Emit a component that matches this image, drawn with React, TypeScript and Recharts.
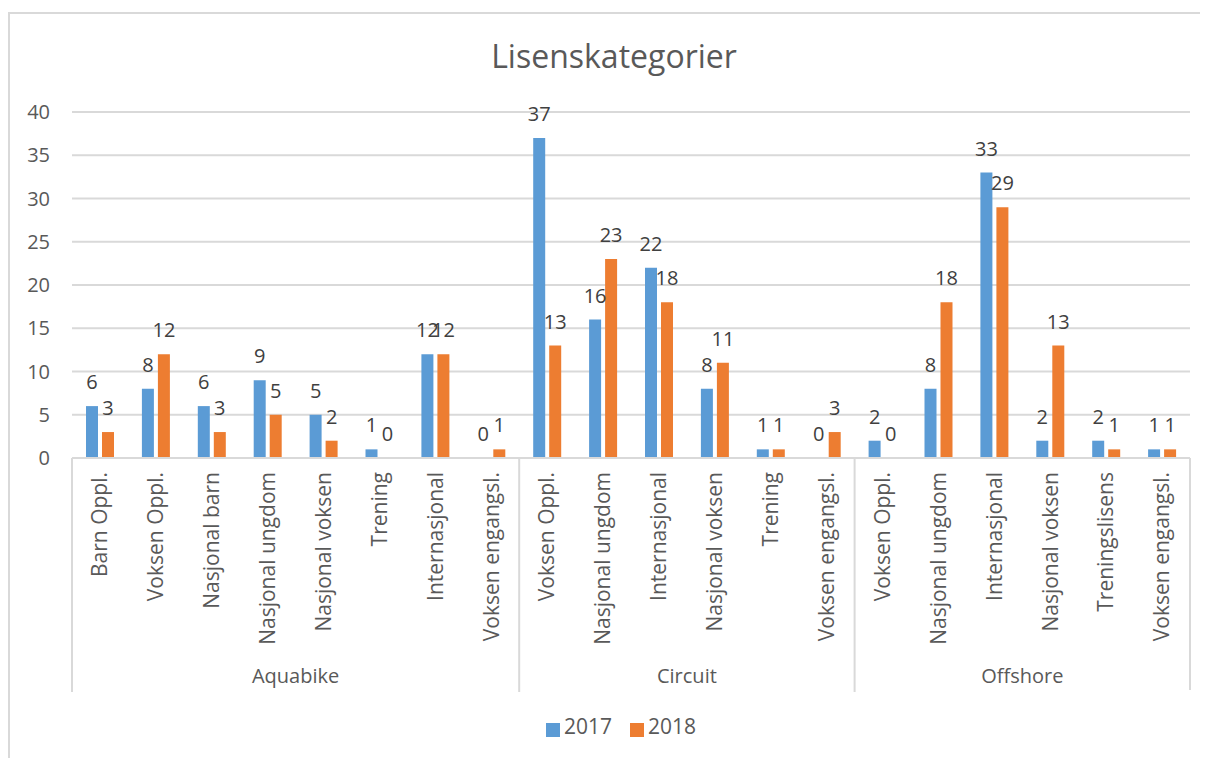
import { Bar, BarChart, CartesianGrid, LabelList, Legend, XAxis, YAxis } from "recharts";

const groups = ["Aquabike", "Circuit", "Offshore"];

const aquabikeCats = ["Barn Oppl.", "Voksen Oppl.", "Nasjonal barn", "Nasjonal ungdom", "Nasjonal voksen", "Trening", "Internasjonal", "Voksen engangsl."];
const aquabike2017 = [6, 8, 6, 9, 5, 1, 12, 0];
const aquabike2018 = [3, 12, 3, 5, 2, 0, 12, 1];

const circuitCats = ["Voksen Oppl.", "Nasjonal ungdom", "Internasjonal", "Nasjonal voksen", "Trening", "Voksen engangsl."];
const circuit2017 = [37, 16, 22, 8, 1, 0];
const circuit2018 = [13, 23, 18, 11, 1, 3];

const offshoreCats = ["Voksen Oppl.", "Nasjonal ungdom", "Internasjonal", "Nasjonal voksen", "Treningslisens", "Voksen engangsl."];
const offshore2017 = [2, 8, 33, 2, 2, 1];
const offshore2018 = [0, 18, 29, 13, 1, 1];

const yTicks = [0, 5, 10, 15, 20, 25, 30, 35, 40];

const groupCats = [aquabikeCats, circuitCats, offshoreCats];
const group2017 = [aquabike2017, circuit2017, offshore2017];
const group2018 = [aquabike2018, circuit2018, offshore2018];

const data = groups.flatMap((g, gi) =>
  groupCats[gi].map((name, i) => ({
    key: `${g}|${name}`,
    name,
    group: g,
    groupStart: i === 0,
    groupSize: groupCats[gi].length,
    v2017: group2017[gi][i],
    v2018: group2018[gi][i],
  }))
);

const W = 1200;
const H = 750;
const LEFT = 64;
const RIGHT = 18;
const BAND = (W - LEFT - RIGHT) / data.length;
const GRID = "#D9D9D9";
const TEXT = "#595959";
const FS = 20;

// zero bars still need a label, so give them a hairline height
const tinyForZero = (v: any) => (Number(v) === 0 ? 0.01 : 0);

function CategoryTick(props: any) {
  const { x, y, index } = props;
  const d = data[index];
  const top = y - 8;
  return (
    <g>
      <text
        x={x}
        y={top + 14}
        transform={`rotate(-90, ${x}, ${top + 14})`}
        textAnchor="end"
        dy="0.35em"
        fill={TEXT}
        fontSize={21}
      >
        {d.name}
      </text>
      {d.groupStart && (
        <>
          <line x1={x - BAND / 2} x2={x - BAND / 2} y1={top} y2={top + 234} stroke={GRID} strokeWidth={2} />
          <text x={x - BAND / 2 + (d.groupSize * BAND) / 2} y={top + 225} textAnchor="middle" fill={TEXT} fontSize={FS}>
            {d.group}
          </text>
        </>
      )}
      {index === data.length - 1 && (
        <line x1={x + BAND / 2} x2={x + BAND / 2} y1={top} y2={top + 232} stroke={GRID} strokeWidth={2} />
      )}
    </g>
  );
}

export default function App() {
  return (
    <div style={{ position: "relative", width: W, height: H, overflow: "hidden", fontFamily: "'Open Sans', sans-serif" }}>
      <div
        style={{
          position: "absolute",
          left: 0,
          top: 4,
          width: 1400,
          height: 1000,
          borderTop: `2px solid ${GRID}`,
          borderLeft: `2px solid ${GRID}`,
        }}
      />
      <div style={{ position: "absolute", left: 0, top: 26, width: 1212, textAlign: "center", fontSize: 32, color: TEXT }}>
        Lisenskategorier
      </div>
      <BarChart
        width={W}
        height={H}
        data={data}
        margin={{ top: 104, right: RIGHT, bottom: 65, left: 0 }}
        barSize={12}
        barGap={4}
      >
        <CartesianGrid vertical={false} stroke={GRID} strokeWidth={2} />
        <XAxis
          dataKey="key"
          height={235}
          interval={0}
          tickLine={false}
          axisLine={{ stroke: GRID, strokeWidth: 2 }}
          tick={<CategoryTick />}
        />
        <YAxis
          width={LEFT}
          domain={[0, 40]}
          ticks={yTicks}
          axisLine={false}
          tickLine={false}
          tickMargin={16}
          tick={{ fill: TEXT, fontSize: FS }}
        />
        <Legend
          layout="horizontal"
          verticalAlign="middle"
          align="center"
          iconType="square"
          iconSize={14}
          wrapperStyle={{ top: 704, left: 16, width: 1212 }}
          formatter={(value) => <span style={{ color: TEXT, fontSize: 21, marginRight: 8 }}>{value}</span>}
        />
        <Bar dataKey="v2017" name="2017" fill="#5B9BD5" minPointSize={tinyForZero} isAnimationActive={false}>
          <LabelList dataKey="v2017" position="top" offset={17} fill="#404040" fontSize={FS} />
        </Bar>
        <Bar dataKey="v2018" name="2018" fill="#ED7D31" minPointSize={tinyForZero} isAnimationActive={false}>
          <LabelList dataKey="v2018" position="top" offset={17} fill="#404040" fontSize={FS} />
        </Bar>
      </BarChart>
    </div>
  );
}
